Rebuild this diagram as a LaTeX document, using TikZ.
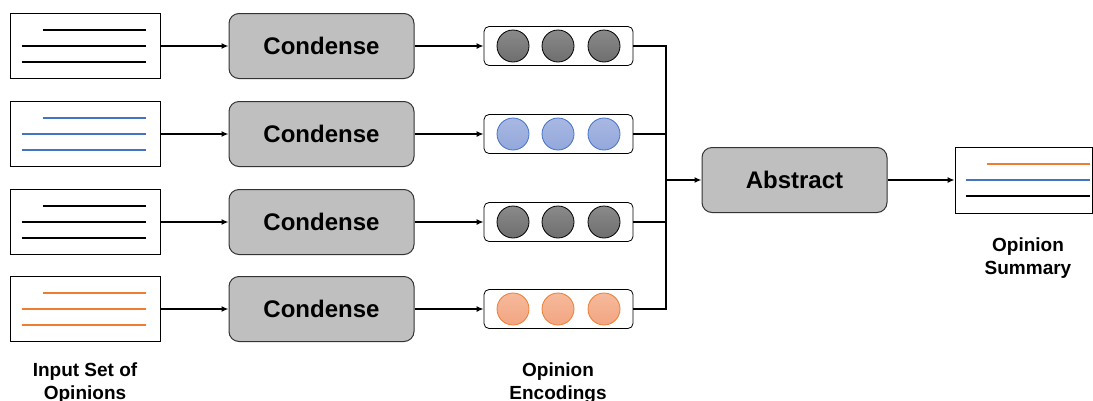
\documentclass[tikz,border=0pt]{standalone}
\usepackage{fontspec}
\setmainfont{Liberation Sans}
\usetikzlibrary{arrows.meta,calc}
\definecolor{boxgray}{HTML}{BFBFBF}
\definecolor{edgegray}{HTML}{333333}
\definecolor{lineblue}{HTML}{4472C4}
\definecolor{lineorange}{HTML}{ED7D31}
\definecolor{fillblue}{HTML}{A9B8E2}
\definecolor{fillblueb}{HTML}{93A8DC}
\definecolor{fillorange}{HTML}{F6BA9B}
\definecolor{fillorangeb}{HTML}{F2A582}
\definecolor{dotgray}{HTML}{8A8A8A}
\definecolor{dotgrayb}{HTML}{6E6E6E}
\tikzset{
  doc/.style={draw=black, line width=0.8pt, fill=white, minimum width=150pt, minimum height=65pt, inner sep=0pt},
  proc/.style={draw=edgegray, line width=1pt, fill=boxgray, rounded corners=10pt, minimum width=185pt, minimum height=65pt,
    font=\bfseries\fontsize{24}{27}\selectfont},
  enc/.style={draw=black, line width=0.8pt, fill=white, rounded corners=5pt, minimum width=149pt, minimum height=39pt, inner sep=0pt},
  dot/.style={circle, minimum size=32pt, inner sep=0pt, line width=0.8pt},
  lbl/.style={align=center, font=\bfseries\fontsize{19}{23}\selectfont},
  txtline/.style={line width=1.6pt},
  link/.style={line width=1.8pt, -{Latex[length=7pt,width=6pt]}},
  mergeline/.style={line width=1.8pt}
}
\begin{document}
\begin{tikzpicture}[x=1pt,y=-1pt]
\useasboundingbox (0,0) rectangle (1093,400);

% four rows: input opinion -> condense -> encoding
\foreach \i/\yc/\lc/\dc/\dtop/\dbot in {
  1/46/black/black/dotgray/dotgrayb,
  2/134/lineblue/lineblue/fillblue/fillblueb,
  3/222/black/black/dotgray/dotgrayb,
  4/309/lineorange/lineorange/fillorange/fillorangeb}{
  \node[doc] (in\i) at (85,\yc) {};
  \draw[txtline, draw=\lc] ($(in\i.west)+(33,-16)$) -- ($(in\i.east)+(-14,-16)$);
  \draw[txtline, draw=\lc] ($(in\i.west)+(12,0)$) -- ($(in\i.east)+(-14,0)$);
  \draw[txtline, draw=\lc] ($(in\i.west)+(12,16)$) -- ($(in\i.east)+(-14,16)$);
  \node[proc] (c\i) at (321.5,\yc) {Condense};
  \node[enc] (e\i) at (558.5,\yc) {};
  \node[dot, draw=\dc, top color=\dtop, bottom color=\dbot] (e\i a) at (513,\yc) {};
  \node[dot, draw=\dc, top color=\dtop, bottom color=\dbot] (e\i b) at (558,\yc) {};
  \node[dot, draw=\dc, top color=\dtop, bottom color=\dbot] (e\i c) at (604,\yc) {};
  \draw[link] (in\i.east) -- (c\i.west);
  \draw[link] (c\i.east) -- (e\i.west);
}

% merge of the encodings
\coordinate (j) at (666,180);
\foreach \i in {1,...,4}{
  \draw[mergeline] (e\i.east) -| (j);
}

\node[proc] (abs) at (794.5,180) {Abstract};
\draw[link] (j) -- (abs.west);

% opinion summary
\node[doc, minimum width=137pt, minimum height=66pt] (sum) at (1023.5,180) {};
\draw[txtline, draw=lineorange] ($(sum.west)+(32,-16)$) -- ($(sum.east)+(-2,-16)$);
\draw[txtline, draw=lineblue] ($(sum.west)+(11,0)$) -- ($(sum.east)+(-2,0)$);
\draw[txtline, draw=black] ($(sum.west)+(11,16)$) -- ($(sum.east)+(-2,16)$);
\draw[link] (abs.east) -- (sum.west);

% captions
\node[lbl] (lin) at (85,383) {Input Set of\\Opinions};
\node[lbl] (lenc) at (558,383) {Opinion\\Encodings};
\node[lbl] (lsum) at (1028,258) {Opinion\\Summary};
\end{tikzpicture}
\end{document}
